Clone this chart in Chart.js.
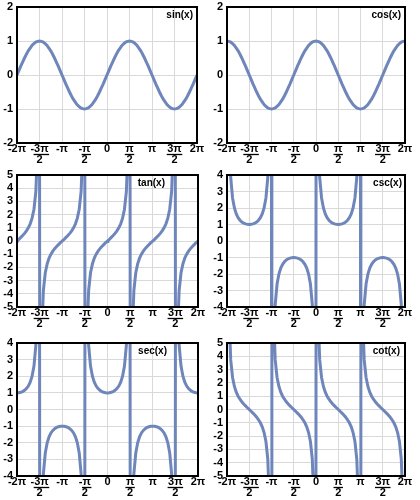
<!DOCTYPE html>
<html>
<head>
<meta charset="utf-8">
<script src="https://cdn.jsdelivr.net/npm/chart.js@4.4.1/dist/chart.umd.min.js"></script>
<style>
  html, body { margin: 0; padding: 0; background: #fff; }
  #wrap { position: relative; width: 420px; height: 500px; }
  .cell { position: absolute; }
</style>
</head>
<body>
<div id="wrap">
  <div class="cell" style="left:0;top:0;width:210px;height:168px"><canvas id="cSin"></canvas></div>
  <div class="cell" style="left:210px;top:0;width:210px;height:168px"><canvas id="cCos"></canvas></div>
  <div class="cell" style="left:0;top:168px;width:210px;height:168px"><canvas id="cTan"></canvas></div>
  <div class="cell" style="left:210px;top:168px;width:210px;height:168px"><canvas id="cCsc"></canvas></div>
  <div class="cell" style="left:0;top:336px;width:210px;height:164px"><canvas id="cSec"></canvas></div>
  <div class="cell" style="left:210px;top:336px;width:210px;height:164px"><canvas id="cCot"></canvas></div>
</div>
<script>
// x in degrees, every 7.5 deg from -360 to 360 (sin, cos)
const xs = [
  -360, -352.5, -345, -337.5, -330, -322.5, -315, -307.5, -300, -292.5, -285, -277.5,
  -270, -262.5, -255, -247.5, -240, -232.5, -225, -217.5, -210, -202.5, -195, -187.5,
  -180, -172.5, -165, -157.5, -150, -142.5, -135, -127.5, -120, -112.5, -105, -97.5,
  -90, -82.5, -75, -67.5, -60, -52.5, -45, -37.5, -30, -22.5, -15, -7.5,
  0, 7.5, 15, 22.5, 30, 37.5, 45, 52.5, 60, 67.5, 75, 82.5,
  90, 97.5, 105, 112.5, 120, 127.5, 135, 142.5, 150, 157.5, 165, 172.5,
  180, 187.5, 195, 202.5, 210, 217.5, 225, 232.5, 240, 247.5, 255, 262.5,
  270, 277.5, 285, 292.5, 300, 307.5, 315, 322.5, 330, 337.5, 345, 352.5,
  360
];

// x for tan, csc, sec, cot: same grid but each multiple of 90 deg split in two (±1.5)
const xsA = [
  -360,
  -358.5, -352.5, -345, -337.5, -330, -322.5, -315, -307.5, -300, -292.5, -285, -277.5, -271.5,
  -268.5, -262.5, -255, -247.5, -240, -232.5, -225, -217.5, -210, -202.5, -195, -187.5, -181.5,
  -178.5, -172.5, -165, -157.5, -150, -142.5, -135, -127.5, -120, -112.5, -105, -97.5, -91.5,
  -88.5, -82.5, -75, -67.5, -60, -52.5, -45, -37.5, -30, -22.5, -15, -7.5, -1.5,
  1.5, 7.5, 15, 22.5, 30, 37.5, 45, 52.5, 60, 67.5, 75, 82.5, 88.5,
  91.5, 97.5, 105, 112.5, 120, 127.5, 135, 142.5, 150, 157.5, 165, 172.5, 178.5,
  181.5, 187.5, 195, 202.5, 210, 217.5, 225, 232.5, 240, 247.5, 255, 262.5, 268.5,
  271.5, 277.5, 285, 292.5, 300, 307.5, 315, 322.5, 330, 337.5, 345, 352.5, 358.5,
  360
];

const sinVals = [
  0, .13, .26, .38, .5, .61, .71, .79, .87, .92, .97, .99,
  1, .99, .97, .92, .87, .79, .71, .61, .5, .38, .26, .13,
  0, -.13, -.26, -.38, -.5, -.61, -.71, -.79, -.87, -.92, -.97, -.99,
  -1, -.99, -.97, -.92, -.87, -.79, -.71, -.61, -.5, -.38, -.26, -.13,
  0, .13, .26, .38, .5, .61, .71, .79, .87, .92, .97, .99,
  1, .99, .97, .92, .87, .79, .71, .61, .5, .38, .26, .13,
  0, -.13, -.26, -.38, -.5, -.61, -.71, -.79, -.87, -.92, -.97, -.99,
  -1, -.99, -.97, -.92, -.87, -.79, -.71, -.61, -.5, -.38, -.26, -.13,
  0
];

const cosVals = [
  1, .99, .97, .92, .87, .79, .71, .61, .5, .38, .26, .13,
  0, -.13, -.26, -.38, -.5, -.61, -.71, -.79, -.87, -.92, -.97, -.99,
  -1, -.99, -.97, -.92, -.87, -.79, -.71, -.61, -.5, -.38, -.26, -.13,
  0, .13, .26, .38, .5, .61, .71, .79, .87, .92, .97, .99,
  1, .99, .97, .92, .87, .79, .71, .61, .5, .38, .26, .13,
  0, -.13, -.26, -.38, -.5, -.61, -.71, -.79, -.87, -.92, -.97, -.99,
  -1, -.99, -.97, -.92, -.87, -.79, -.71, -.61, -.5, -.38, -.26, -.13,
  0, .13, .26, .38, .5, .61, .71, .79, .87, .92, .97, .99,
  1
];

const tanVals = [
  0,
  .03, .13, .27, .41, .58, .77, 1, 1.3, 1.73, 2.41, 3.73, 7.6, 38.2,
  -38.2, -7.6, -3.73, -2.41, -1.73, -1.3, -1, -.77, -.58, -.41, -.27, -.13, -.03,
  .03, .13, .27, .41, .58, .77, 1, 1.3, 1.73, 2.41, 3.73, 7.6, 38.2,
  -38.2, -7.6, -3.73, -2.41, -1.73, -1.3, -1, -.77, -.58, -.41, -.27, -.13, -.03,
  .03, .13, .27, .41, .58, .77, 1, 1.3, 1.73, 2.41, 3.73, 7.6, 38.2,
  -38.2, -7.6, -3.73, -2.41, -1.73, -1.3, -1, -.77, -.58, -.41, -.27, -.13, -.03,
  .03, .13, .27, .41, .58, .77, 1, 1.3, 1.73, 2.41, 3.73, 7.6, 38.2,
  -38.2, -7.6, -3.73, -2.41, -1.73, -1.3, -1, -.77, -.58, -.41, -.27, -.13, -.03,
  0
];

const cscVals = [
  null,
  38.2, 7.66, 3.86, 2.61, 2, 1.64, 1.41, 1.26, 1.15, 1.08, 1.04, 1.01, 1,
  1, 1.01, 1.04, 1.08, 1.15, 1.26, 1.41, 1.64, 2, 2.61, 3.86, 7.66, 38.2,
  -38.2, -7.66, -3.86, -2.61, -2, -1.64, -1.41, -1.26, -1.15, -1.08, -1.04, -1.01, -1,
  -1, -1.01, -1.04, -1.08, -1.15, -1.26, -1.41, -1.64, -2, -2.61, -3.86, -7.66, -38.2,
  38.2, 7.66, 3.86, 2.61, 2, 1.64, 1.41, 1.26, 1.15, 1.08, 1.04, 1.01, 1,
  1, 1.01, 1.04, 1.08, 1.15, 1.26, 1.41, 1.64, 2, 2.61, 3.86, 7.66, 38.2,
  -38.2, -7.66, -3.86, -2.61, -2, -1.64, -1.41, -1.26, -1.15, -1.08, -1.04, -1.01, -1,
  -1, -1.01, -1.04, -1.08, -1.15, -1.26, -1.41, -1.64, -2, -2.61, -3.86, -7.66, -38.2,
  null
];

const secVals = [
  1,
  1, 1.01, 1.04, 1.08, 1.15, 1.26, 1.41, 1.64, 2, 2.61, 3.86, 7.66, 38.2,
  -38.2, -7.66, -3.86, -2.61, -2, -1.64, -1.41, -1.26, -1.15, -1.08, -1.04, -1.01, -1,
  -1, -1.01, -1.04, -1.08, -1.15, -1.26, -1.41, -1.64, -2, -2.61, -3.86, -7.66, -38.2,
  38.2, 7.66, 3.86, 2.61, 2, 1.64, 1.41, 1.26, 1.15, 1.08, 1.04, 1.01, 1,
  1, 1.01, 1.04, 1.08, 1.15, 1.26, 1.41, 1.64, 2, 2.61, 3.86, 7.66, 38.2,
  -38.2, -7.66, -3.86, -2.61, -2, -1.64, -1.41, -1.26, -1.15, -1.08, -1.04, -1.01, -1,
  -1, -1.01, -1.04, -1.08, -1.15, -1.26, -1.41, -1.64, -2, -2.61, -3.86, -7.66, -38.2,
  38.2, 7.66, 3.86, 2.61, 2, 1.64, 1.41, 1.26, 1.15, 1.08, 1.04, 1.01, 1,
  1
];

const cotVals = [
  null,
  38.2, 7.6, 3.73, 2.41, 1.73, 1.3, 1, .77, .58, .41, .27, .13, .03,
  -.03, -.13, -.27, -.41, -.58, -.77, -1, -1.3, -1.73, -2.41, -3.73, -7.6, -38.2,
  38.2, 7.6, 3.73, 2.41, 1.73, 1.3, 1, .77, .58, .41, .27, .13, .03,
  -.03, -.13, -.27, -.41, -.58, -.77, -1, -1.3, -1.73, -2.41, -3.73, -7.6, -38.2,
  38.2, 7.6, 3.73, 2.41, 1.73, 1.3, 1, .77, .58, .41, .27, .13, .03,
  -.03, -.13, -.27, -.41, -.58, -.77, -1, -1.3, -1.73, -2.41, -3.73, -7.6, -38.2,
  38.2, 7.6, 3.73, 2.41, 1.73, 1.3, 1, .77, .58, .41, .27, .13, .03,
  -.03, -.13, -.27, -.41, -.58, -.77, -1, -1.3, -1.73, -2.41, -3.73, -7.6, -38.2,
  null
];

const xTickVals = [-360, -270, -180, -90, 0, 90, 180, 270, 360];
const xTickLabels = [['-2π'], ['-3π', '2'], ['-π'], ['-π', '2'], ['0'], ['π', '2'], ['π'], ['3π', '2'], ['2π']];

const LINE = '#6f86bb';
const GRID = '#d9d9d9';
const FONT = 'bold 11px "Liberation Sans", Arial, sans-serif';

// frame, function name and fraction bars
const decor = {
  id: 'decor',
  afterDraw(chart, args, opts) {
    const ctx = chart.ctx;
    const a = chart.chartArea;
    ctx.save();
    ctx.strokeStyle = '#000';
    ctx.lineWidth = 2;
    ctx.strokeRect(a.left, a.top, a.right - a.left, a.bottom - a.top);

    ctx.font = 'bold 10px "Liberation Sans", Arial, sans-serif';
    ctx.fillStyle = '#000';
    ctx.textAlign = 'right';
    ctx.textBaseline = 'middle';
    ctx.fillText(opts.name, a.right - opts.inset, a.top + 8);

    const sx = chart.scales.x;
    ctx.font = FONT;
    ctx.lineWidth = 1.3;
    xTickVals.forEach((v, i) => {
      const lab = xTickLabels[i];
      if (lab.length < 2) return;
      const px = sx.getPixelForValue(v);
      const full = ctx.measureText(lab[0]).width;
      const num = lab[0].replace('-', '');
      const w = ctx.measureText(num).width;
      const x0 = px + full / 2 - w;
      const y = sx.top + 11.5;
      ctx.beginPath();
      ctx.moveTo(x0 - 0.5, y);
      ctx.lineTo(x0 + w + 0.5, y);
      ctx.stroke();
    });
    ctx.restore();
  }
};

function makeChart(id, name, xv, ys, yMin, yMax, axisH, padRight, inset) {
  const pts = xv.map((x, i) => ({ x: x, y: ys[i] }));
  return new Chart(document.getElementById(id), {
    type: 'line',
    data: {
      datasets: [{
        data: pts,
        borderColor: LINE,
        borderWidth: 3,
        pointRadius: 0,
        tension: 0,
        clip: 0,
        fill: false
      }]
    },
    options: {
      responsive: true,
      maintainAspectRatio: false,
      animation: false,
      events: [],
      layout: { padding: { top: 7, right: padRight, left: 0, bottom: 0 } },
      plugins: {
        legend: { display: false },
        tooltip: { enabled: false },
        decor: { name: name, inset: inset }
      },
      scales: {
        x: {
          type: 'linear',
          min: -360,
          max: 360,
          afterBuildTicks: s => { s.ticks = xTickVals.map(v => ({ value: v })); },
          afterFit: s => { s.height = axisH; s.paddingLeft = 0; s.paddingRight = 0; },
          grid: { color: GRID, lineWidth: 1, drawTicks: false },
          border: { display: false },
          ticks: {
            padding: 0,
            maxRotation: 0,
            autoSkip: false,
            color: '#000',
            font: { family: '"Liberation Sans", Arial, sans-serif', size: 11, weight: 'bold', lineHeight: 1 },
            callback: v => xTickLabels[xTickVals.indexOf(v)]
          }
        },
        y: {
          min: yMin,
          max: yMax,
          afterFit: s => { s.width = 17; s.paddingTop = 0; s.paddingBottom = 0; },
          grid: { color: GRID, lineWidth: 1, drawTicks: false },
          border: { display: false },
          ticks: {
            stepSize: 1,
            autoSkip: false,
            padding: 4,
            color: '#000',
            font: { family: '"Liberation Sans", Arial, sans-serif', size: 11, weight: 'bold', lineHeight: 1 }
          }
        }
      }
    },
    plugins: [decor]
  });
}

makeChart('cSin', 'sin(x)', xs, sinVals, -2, 2, 25, 13, 4);
makeChart('cCos', 'cos(x)', xs, cosVals, -2, 2, 25, 15, 4);
makeChart('cTan', 'tan(x)', xsA, tanVals, -5, 5, 29, 12, 33);
makeChart('cCsc', 'csc(x)', xsA, cscVals, -4, 4, 29, 15, 3);
makeChart('cSec', 'sec(x)', xsA, secVals, -4, 4, 24, 12, 31);
makeChart('cCot', 'cot(x)', xsA, cotVals, -5, 5, 24, 15, 5);
</script>
</body>
</html>
